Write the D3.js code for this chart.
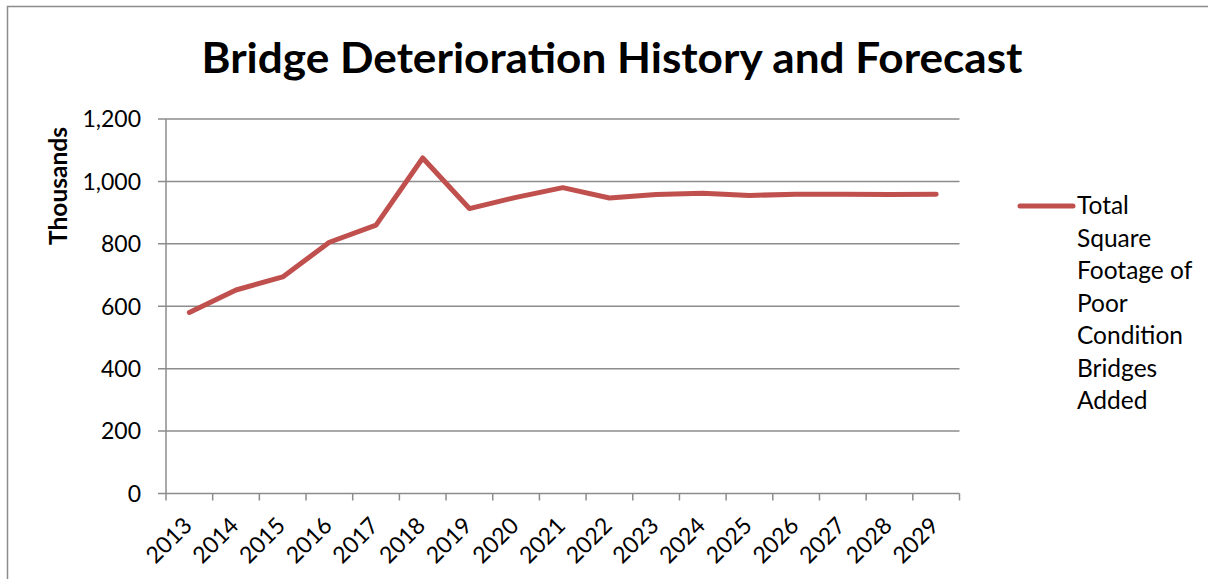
<!DOCTYPE html>
<html><head><meta charset="utf-8">
<script src="https://cdn.jsdelivr.net/npm/d3@7"></script>
<style>body{margin:0;background:#fff;} svg{display:block;}</style>
</head><body>
<script>
const years = ["2013","2014","2015","2016","2017","2018","2019","2020","2021","2022","2023","2024","2025","2026","2027","2028","2029"];
const values = [580, 652, 694, 805, 860, 1075, 913, 949, 980, 947, 958, 962, 955, 959, 959, 958, 959];
const yTicks = [0, 200, 400, 600, 800, 1000, 1200];
const seriesName = ["Total", "Square", "Footage of", "Poor", "Condition", "Bridges", "Added"];
const title = "Bridge Deterioration History and Forecast";
const yTitle = "Thousands";

const W = 1208, H = 579;
const svg = d3.select("body").append("svg").attr("width", W).attr("height", H);
const font = "Lato, 'Open Sans', sans-serif";
const grid = "#8c8c8c";
const red = "#C0504D";

svg.append("rect").attr("x", 7.5).attr("y", 6.5).attr("width", 1220).attr("height", 600)
  .attr("fill", "#fff").attr("stroke", "#8c8c8c").attr("stroke-width", 1.5);

const L = 166, R = 959.5, T = 119, B = 493.5;
const x = d3.scaleBand().domain(years).range([L, R]);
const y = d3.scaleLinear().domain([0, 1200]).range([B, T]);

// gridlines
svg.append("g").selectAll("line").data(yTicks).join("line")
  .attr("x1", L - 8).attr("x2", R).attr("y1", d => y(d)).attr("y2", d => y(d))
  .attr("stroke", grid).attr("stroke-width", 1.5);

// y axis line
svg.append("line").attr("x1", L).attr("x2", L).attr("y1", T).attr("y2", B + 7)
  .attr("stroke", grid).attr("stroke-width", 1.5);

// x ticks at band boundaries
const bounds = years.map(d => x(d)).concat([R]);
svg.append("g").selectAll("line").data(bounds.slice(1)).join("line")
  .attr("x1", d => d).attr("x2", d => d).attr("y1", B).attr("y2", B + 7)
  .attr("stroke", grid).attr("stroke-width", 1.5);

// y tick labels
svg.append("g").selectAll("text").data(yTicks).join("text")
  .attr("x", 141).attr("y", d => y(d)).attr("dy", "0.36em")
  .attr("text-anchor", "end").attr("font-family", font).attr("font-size", 23)
  .attr("fill", "#000").text(d => d3.format(",")(d));

// x tick labels
svg.append("g").selectAll("text").data(years).join("text")
  .attr("transform", d => `translate(${x(d) + x.bandwidth() / 2 + 4},${527}) rotate(-45)`)
  .attr("text-anchor", "end").attr("font-family", font).attr("font-size", 23)
  .attr("fill", "#000").text(d => d);

// y title
svg.append("text").attr("transform", "translate(67,186) rotate(-90)")
  .attr("text-anchor", "middle").attr("font-family", font).attr("font-size", 24.5)
  .attr("font-weight", "bold").attr("fill", "#000").text(yTitle);

// title
svg.append("text").attr("x", 612).attr("y", 73).attr("text-anchor", "middle")
  .attr("font-family", font).attr("font-size", 42).attr("font-weight", "bold")
  .attr("textLength", 821).attr("lengthAdjust", "spacingAndGlyphs")
  .attr("fill", "#000").text(title);

// line
const line = d3.line().x((d, i) => x(years[i]) + x.bandwidth() / 2).y(d => y(d));
svg.append("path").datum(values).attr("d", line).attr("fill", "none")
  .attr("stroke", red).attr("stroke-width", 5).attr("stroke-linejoin", "round").attr("stroke-linecap", "round");

// legend
svg.append("line").attr("x1", 1020).attr("x2", 1073).attr("y1", 206).attr("y2", 206)
  .attr("stroke", red).attr("stroke-width", 5).attr("stroke-linecap", "round");
svg.append("g").selectAll("text").data(seriesName).join("text")
  .attr("x", 1077).attr("y", (d, i) => 214 + i * 32.5)
  .attr("font-family", font).attr("font-size", 24.5).attr("fill", "#000").text(d => d);
</script>
</body></html>
